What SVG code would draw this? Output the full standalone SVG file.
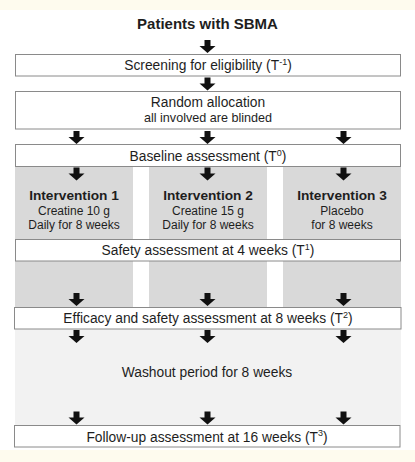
<svg xmlns="http://www.w3.org/2000/svg" xmlns:xlink="http://www.w3.org/1999/xlink" width="415" height="462" viewBox="0 0 415 462">
<defs>
<style>
text{font-family:"Liberation Sans",Arial,sans-serif;fill:#1e1e1e;text-anchor:middle}
.box{fill:#fff;stroke:#8a8a8a;stroke-width:1}
.t{font-size:13.8px}
.s{font-size:12.6px}
.b{font-size:13.7px;font-weight:bold}
.i{font-size:12px}
.sup{font-size:9px}
.col{fill:#d9d9d9}
.wash{fill:#f2f2f2}
.arr{fill:#111}
</style>
<path id="a" class="arr" d="M-3,0 H3 V6 H8 L0,13 L-8,6 H-3 Z"/>
</defs>
<rect width="415" height="462" fill="#fff"/>
<rect x="0" y="0" width="415" height="10" fill="#fefbee"/>
<rect x="0" y="450" width="415" height="12" fill="#fefbee"/>

<g id="backgrounds">
<rect class="col" x="15" y="167" width="118" height="140"/>
<rect class="col" x="149" y="167" width="118" height="140"/>
<rect class="col" x="283" y="167" width="118" height="140"/>
<rect class="wash" x="15" y="329" width="386" height="96"/>
</g>

<g id="title"><text x="207.5" y="29" style="font-size:15px;font-weight:bold">Patients with SBMA</text></g>

<g id="screening">
<rect class="box" x="15.5" y="54.5" width="385" height="21.5"/>
<text class="t" x="208" y="70">Screening for eligibility (T<tspan class="sup" dy="-5.5">-1</tspan><tspan dy="5.5">)</tspan></text>
</g>

<g id="random">
<rect class="box" x="15.5" y="91.5" width="385" height="37.5"/>
<text class="t" x="208" y="106.5">Random allocation</text>
<text class="s" x="208" y="122">all involved are blinded</text>
</g>

<g id="baseline">
<rect class="box" x="15.5" y="144.5" width="385" height="22"/>
<text class="t" x="208" y="161">Baseline assessment (T<tspan class="sup" dy="-5.5">0</tspan><tspan dy="5.5">)</tspan></text>
</g>

<g id="intervention1">
<text class="b" x="74" y="200">Intervention 1</text>
<text class="i" x="74" y="214.5">Creatine 10 g</text>
<text class="i" x="74" y="229">Daily for 8 weeks</text>
</g>
<g id="intervention2">
<text class="b" x="208" y="200">Intervention 2</text>
<text class="i" x="208" y="214.5">Creatine 15 g</text>
<text class="i" x="208" y="229">Daily for 8 weeks</text>
</g>
<g id="intervention3">
<text class="b" x="342" y="200">Intervention 3</text>
<text class="i" x="342" y="214.5">Placebo</text>
<text class="i" x="342" y="229">for 8 weeks</text>
</g>

<g id="safety">
<rect class="box" x="15.5" y="239.5" width="385" height="21.5"/>
<text class="t" x="208" y="255">Safety assessment at 4 weeks (T<tspan class="sup" dy="-5.5">1</tspan><tspan dy="5.5">)</tspan></text>
</g>

<g id="efficacy">
<rect class="box" x="14.5" y="307.5" width="386.5" height="21.5"/>
<text class="t" x="208" y="323">Efficacy and safety assessment at 8 weeks (T<tspan class="sup" dy="-5.5">2</tspan><tspan dy="5.5">)</tspan></text>
</g>

<g id="washout"><text class="t" x="207" y="377">Washout period for 8 weeks</text></g>

<g id="followup">
<rect class="box" x="14.5" y="425.5" width="385.5" height="21.5"/>
<text class="t" x="207" y="441.5">Follow-up assessment at 16 weeks (T<tspan class="sup" dy="-5.5">3</tspan><tspan dy="5.5">)</tspan></text>
</g>

<g id="connectors">
<use xlink:href="#a" x="207.5" y="40"/>
<use xlink:href="#a" x="207.5" y="77.5"/>
<use xlink:href="#a" x="76.5" y="131"/>
<use xlink:href="#a" x="207.5" y="131"/>
<use xlink:href="#a" x="343.5" y="131"/>
<use xlink:href="#a" x="76.5" y="167.5"/>
<use xlink:href="#a" x="207.5" y="167.5"/>
<use xlink:href="#a" x="343.5" y="167.5"/>
<use xlink:href="#a" x="76.5" y="293"/>
<use xlink:href="#a" x="207.5" y="293"/>
<use xlink:href="#a" x="343.5" y="293"/>
<use xlink:href="#a" x="76.5" y="330"/>
<use xlink:href="#a" x="207.5" y="330"/>
<use xlink:href="#a" x="343.5" y="330"/>
<use xlink:href="#a" x="76.5" y="411.5"/>
<use xlink:href="#a" x="207.5" y="411.5"/>
<use xlink:href="#a" x="343.5" y="411.5"/>
</g>
</svg>
